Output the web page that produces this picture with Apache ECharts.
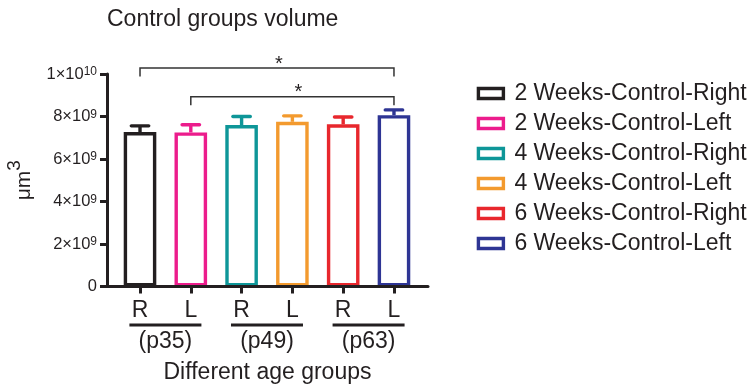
<!DOCTYPE html>
<html>
<head>
<meta charset="utf-8">
<script src="https://cdn.jsdelivr.net/npm/echarts@6/dist/echarts.min.js"></script>
<style>html,body{margin:0;padding:0;background:#fff}#c{width:751px;height:389px}</style>
</head>
<body>
<div id="c"></div>
<script>
// ---- data ----
const seriesNames = ['2 Weeks-Control-Right','2 Weeks-Control-Left','4 Weeks-Control-Right','4 Weeks-Control-Left','6 Weeks-Control-Right','6 Weeks-Control-Left'];
const positions = [1, 2, 3, 4, 5, 6];
const sideLabels = ['R', 'L', 'R', 'L', 'R', 'L'];
const meanValues = [7.27e9, 7.25e9, 7.60e9, 7.75e9, 7.63e9, 8.06e9];
const errorValues = [0.29e9, 0.36e9, 0.40e9, 0.28e9, 0.35e9, 0.25e9];
const groupLabels = ['(p35)', '(p49)', '(p63)'];
const groupCenters = [1.5, 3.5, 5.5];
const yTicks = [0, 2e9, 4e9, 6e9, 8e9, 1e10];
const sigFrom = [1, 2];
const sigTo = [6, 6];
const sigLevel = [1.028e10, 0.893e10];
const sigMark = ['*', '*'];

// ---- styles ----
const colors = ['#231f20', '#ec1c8c', '#0e9698', '#f39a2e', '#e8272d', '#2e3594'];
const ink = '#231f20';
const starShift = [12, 6];
const FONT = '"Liberation Sans", Arial, Helvetica, sans-serif';

function fmtY(v) {
  if (v === 0) return '{n|0}';
  const exp = Math.floor(Math.log10(v) + 1e-9);
  const mant = Math.round(v / Math.pow(10, exp));
  return '{n|' + mant + '×10}{s|' + exp + '}';
}

const chart = echarts.init(document.getElementById('c'), null, {renderer: 'canvas'});

const barSeries = seriesNames.map((name, i) => ({
  name: name,
  type: 'bar',
  xAxisIndex: 0,
  yAxisIndex: 0,
  barWidth: 32.6,
  barGap: '-100%',
  z: 2,
  itemStyle: {color: '#ffffff', borderColor: colors[i], borderWidth: 3.4},
  emphasis: {disabled: true},
  data: [[positions[i], meanValues[i]]]
}));

const errSeries = {
  type: 'custom',
  xAxisIndex: 0, yAxisIndex: 0,
  z: 3,
  clip: false,
  data: positions.map((p, i) => [p, meanValues[i], meanValues[i] + errorValues[i]]),
  renderItem: function (params, api) {
    const i = params.dataIndex;
    const base = api.coord([api.value(0), api.value(1)]);
    const top = api.coord([api.value(0), api.value(2)]);
    const st = {stroke: colors[i], lineWidth: 3.4, lineCap: 'round'};
    return {
      type: 'group',
      children: [
        {type: 'line', shape: {x1: base[0], y1: base[1], x2: top[0], y2: top[1]}, style: {stroke: colors[i], lineWidth: 3.4}},
        {type: 'line', shape: {x1: top[0] - 8.7, y1: top[1], x2: top[0] + 8.7, y2: top[1]}, style: st}
      ]
    };
  }
};

const sigSeries = {
  type: 'custom',
  xAxisIndex: 0, yAxisIndex: 0,
  z: 4,
  clip: false,
  data: sigFrom.map((f, i) => [f, sigTo[i], sigLevel[i]]),
  renderItem: function (params, api) {
    const i = params.dataIndex;
    const a = api.coord([api.value(0), api.value(2)]);
    const b = api.coord([api.value(1), api.value(2)]);
    const leg = 8.4;
    return {
      type: 'group',
      children: [
        {type: 'polyline', shape: {points: [[a[0], a[1] + leg], [a[0], a[1]], [b[0], b[1]], [b[0], b[1] + leg]]},
         style: {stroke: '#333', lineWidth: 1.5, fill: null}},
        {type: 'text', x: (a[0] + b[0]) / 2 + starShift[i], y: a[1] + 6,
         style: {text: sigMark[i], fill: ink, font: '20px ' + FONT, align: 'center', verticalAlign: 'bottom'}}
      ]
    };
  }
};

const option = {
  animation: false,
  backgroundColor: '#ffffff',
  textStyle: {fontFamily: FONT, color: ink},
  title: {
    text: 'Control groups volume',
    left: 102, top: 3,
    textStyle: {fontFamily: FONT, fontSize: 23, fontWeight: 'normal', color: ink}
  },
  legend: {
    orient: 'vertical',
    left: 471.7, top: 77,
    itemWidth: 25, itemHeight: 10,
    itemGap: 7,
    selectedMode: false,
    textStyle: {fontFamily: FONT, fontSize: 23, lineHeight: 20, color: ink, padding: [0, 0, 0, 6]},
    data: seriesNames.map((n, i) => ({name: n, icon: 'rect', itemStyle: {color: '#fff', borderColor: colors[i], borderWidth: 3.4}}))
  },
  grid: {left: 107, top: 74, width: 321, height: 215.5, containLabel: false},
  xAxis: [
    {
      type: 'value', min: 0.35, max: 6.67, z: 10,
      axisLine: {show: true, lineStyle: {color: ink, width: 3}},
      axisTick: {show: true, customValues: positions, length: 7, lineStyle: {color: ink, width: 3}},
      splitLine: {show: false},
      axisLabel: {
        customValues: positions, margin: 13,
        formatter: v => sideLabels[positions.indexOf(Math.round(v))],
        fontFamily: FONT, fontSize: 23, lineHeight: 22, color: ink
      },
      name: 'Different age groups', nameLocation: 'middle', nameGap: 75,
      nameTextStyle: {fontFamily: FONT, fontSize: 23, lineHeight: 22, color: ink}
    },
    {
      type: 'value', min: 0.35, max: 6.67, position: 'bottom',
      axisLine: {show: false}, axisTick: {show: false}, splitLine: {show: false},
      axisLabel: {
        customValues: groupCenters, margin: 37,
        formatter: v => '{u| }\n{p|' + groupLabels[groupCenters.indexOf(v)] + '}',
        rich: {
          u: {width: 72, height: 3, lineHeight: 3, backgroundColor: ink, fontSize: 1},
          p: {fontFamily: FONT, fontSize: 23, lineHeight: 30, color: ink}
        }
      }
    }
  ],
  yAxis: {
    type: 'value', min: 0, max: 1e10, interval: 2e9, z: 10,
    axisLine: {show: true, lineStyle: {color: ink, width: 3}},
    axisTick: {show: true, length: 7, lineStyle: {color: ink, width: 3}},
    splitLine: {show: false},
    axisLabel: {
      margin: 10,
      formatter: fmtY,
      rich: {
        n: {fontFamily: FONT, fontSize: 16.5, lineHeight: 16, color: ink},
        s: {fontFamily: FONT, fontSize: 12, lineHeight: 10, verticalAlign: 'top', color: ink}
      }
    },
    name: '{m|μm}{s|3}', nameLocation: 'middle', nameGap: 72, nameRotate: 90,
    nameTextStyle: {
      rich: {
        m: {fontFamily: FONT, fontSize: 21, lineHeight: 30, verticalAlign: 'bottom', color: ink},
        s: {fontFamily: FONT, fontSize: 19, lineHeight: 19, verticalAlign: 'top', color: ink}
      }
    }
  },
  series: barSeries.concat([errSeries, sigSeries])
};
chart.setOption(option);
</script>
</body>
</html>
